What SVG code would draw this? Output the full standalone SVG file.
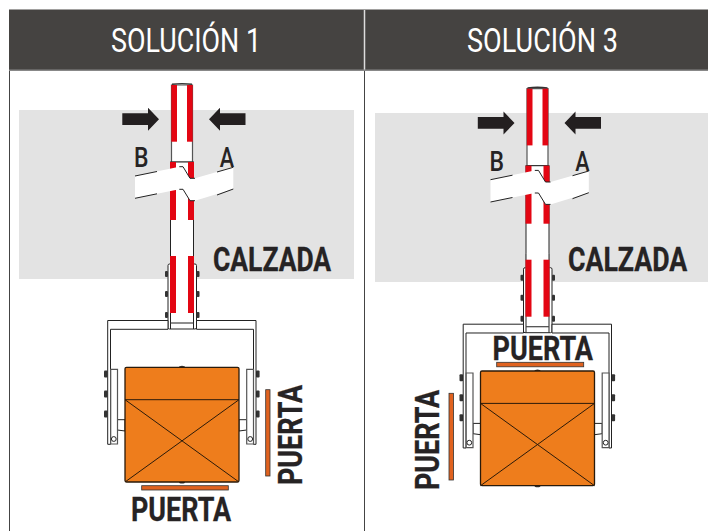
<svg xmlns="http://www.w3.org/2000/svg" xmlns:xlink="http://www.w3.org/1999/xlink" width="708" height="531" viewBox="0 0 708 531">
<style>
.road{fill:#e3e3e3}
.head{fill:#454341}
.title{font-family:"Roboto","Liberation Sans",sans-serif;font-size:33px;fill:#fff;font-weight:400}
.lab{font-family:"Roboto","Liberation Sans",sans-serif;font-weight:700;font-size:32.5px;fill:#262324;stroke:#262324;stroke-width:.3}
.ab{font-family:"Roboto","Liberation Sans",sans-serif;font-weight:500;font-size:27px;fill:#262324}
.red{fill:#e30613}
.wh{fill:#fff;stroke:#222;stroke-width:1}
.wg{fill:#fff;stroke:#555;stroke-width:1.2}
.ln{fill:none;stroke:#222;stroke-width:1}
.box{fill:#ee7d1c;stroke:#2a1a0a;stroke-width:1.3;stroke-linejoin:round}
.x{fill:none;stroke:#2a1a0a;stroke-width:1}
.door{fill:#e0621f;stroke:#333;stroke-width:.8}
.bolt{fill:#333}
.arr{fill:#231f20}
</style>
<defs>
<g id="barrier">
<path class="wg" d="M171.5 85H192.5V162H171.5Z"/>
<path d="M172 84.2Q182 83 192 84.2" fill="none" stroke="#333" stroke-width="1.4"/>
<rect class="red" x="171.3" y="85" width="5.7" height="56.7"/>
<rect class="red" x="187" y="85" width="5.7" height="56.7"/>
<rect class="wh" x="170.5" y="162" width="23" height="94"/>
<rect class="wh" x="168" y="264" width="28.5" height="65" rx="1.5"/>
<rect x="170" y="250" width="24" height="73" fill="#fff"/>
<path class="ln" d="M170.5 250V329M193.5 250V329"/>
<path d="M170.5 323H193.5" stroke="#444" stroke-width="1.2"/>
<rect class="red" x="170" y="162" width="6" height="58"/>
<rect class="red" x="188" y="162" width="6" height="58"/>
<rect class="red" x="170" y="256" width="6" height="57"/>
<rect class="red" x="188" y="256" width="6" height="57"/>
<path fill="#fff" d="M135 176L179.3 166.7H183L190 178.3H195L233.3 167.3V189L195 200.7H190L183 189.3H179.3L135 198.3Z"/>
<path class="ln" d="M135 176L157 171.5M179.3 166.7H183L190 178.3H195M217 172L233.3 167.3M135 198.3L157 193.8M179.3 189.3H183L190 200.7H195M217 195L233.3 189"/>
<g class="bolt">
<rect x="165" y="271" width="3" height="6" rx="1"/><rect x="165" y="291" width="3" height="6" rx="1"/><rect x="165" y="312" width="3" height="6" rx="1"/>
<rect x="196.5" y="271" width="3" height="6" rx="1"/><rect x="196.5" y="291" width="3" height="6" rx="1"/><rect x="196.5" y="312" width="3" height="6" rx="1"/>
<rect x="104" y="370.5" width="3.6" height="7" rx="1"/><rect x="104" y="390.5" width="3.6" height="7" rx="1"/><rect x="104" y="410.5" width="3.6" height="7" rx="1"/>
<rect x="256" y="370.5" width="3.6" height="7" rx="1"/><rect x="256" y="390.5" width="3.6" height="7" rx="1"/><rect x="256" y="410.5" width="3.6" height="7" rx="1"/>
</g>
<path class="wh" d="M168 320.5H107.7V444.3H110.5V329.3H168Z"/>
<path class="wh" d="M196.5 320.5H256V444.3H253.5V329.3H196.5Z"/>
<path class="wh" d="M117.5 419.7H125V431L117.5 430Z"/>
<path class="wh" d="M246.7 419.7H239V431L246.7 430Z"/>
<path class="wg" d="M110.7 369.3H117.5V444H110.7Z"/>
<path class="wg" d="M246.7 369.3H253.5V444H246.7Z"/>
<circle class="wh" cx="113.8" cy="439" r="2.4"/>
<circle class="wh" cx="250.2" cy="439" r="2.4"/>
<ellipse class="bolt" cx="182" cy="367.3" rx="3" ry="1.5"/>
<ellipse class="bolt" cx="182" cy="482" rx="3" ry="1.5"/>
<rect class="box" x="125" y="367.3" width="114" height="114.7" rx="1.5"/>
<path class="x" d="M125 399.7H239M125 399.7L239 482M239 399.7L125 482"/>
<path class="arr" d="M122.3 113.3H148V107.7L159 119.3L148 130.7V125H122.3Z"/>
<path class="arr" d="M245.5 113.3H220V107.7L209 119.3L220 130.7V125H245.5Z"/>
<text class="ab" transform="translate(134 167) scale(.85 1)">B</text>
<text class="ab" transform="translate(219.8 167) scale(.8 1)">A</text>
</g>
</defs>
<rect width="708" height="531" fill="#fff"/>
<g id="grid">
<rect class="head" x="9" y="9.5" width="699" height="60.5"/>
<path d="M9.5 70V531M364.5 70V531" stroke="#444" stroke-width="1"/>
<path d="M364.5 10V70" stroke="#ddd" stroke-width="1.5"/>
<path d="M9 70.2H708" stroke="#888" stroke-width="1.5"/>
<text class="title" x="111" y="51.5" textLength="150" lengthAdjust="spacingAndGlyphs">SOLUCIÓN 1</text>
<text class="title" x="467" y="51.5" textLength="151" lengthAdjust="spacingAndGlyphs">SOLUCIÓN 3</text>
</g>
<g id="solucion-1">
<rect class="road" x="19" y="110" width="335" height="169"/>
<use xlink:href="#barrier" href="#barrier"/>
<text class="lab" transform="translate(213 271) scale(.815 1)">CALZADA</text>
<rect class="door" x="141.7" y="485.7" width="86.6" height="4.3"/>
<rect class="door" x="265.7" y="389.7" width="4.3" height="86.3"/>
<text class="lab" x="131" y="520.5" textLength="100" lengthAdjust="spacingAndGlyphs">PUERTA</text>
<text class="lab" transform="translate(302 485) rotate(-90)" textLength="100" lengthAdjust="spacingAndGlyphs">PUERTA</text>
</g>
<g id="solucion-3">
<rect class="road" x="375" y="113" width="333" height="169"/>
<use xlink:href="#barrier" href="#barrier" transform="translate(355.5 3.7)"/>
<text class="lab" transform="translate(568 271) scale(.822 1)">CALZADA</text>
<rect class="door" x="496.7" y="362.3" width="87" height="4.5"/>
<rect class="door" x="449" y="393.3" width="4.5" height="86.7"/>
<text class="lab" x="492.5" y="359.5" textLength="100.5" lengthAdjust="spacingAndGlyphs">PUERTA</text>
<text class="lab" transform="translate(439 490) rotate(-90)" textLength="100" lengthAdjust="spacingAndGlyphs">PUERTA</text>
</g>
</svg>
